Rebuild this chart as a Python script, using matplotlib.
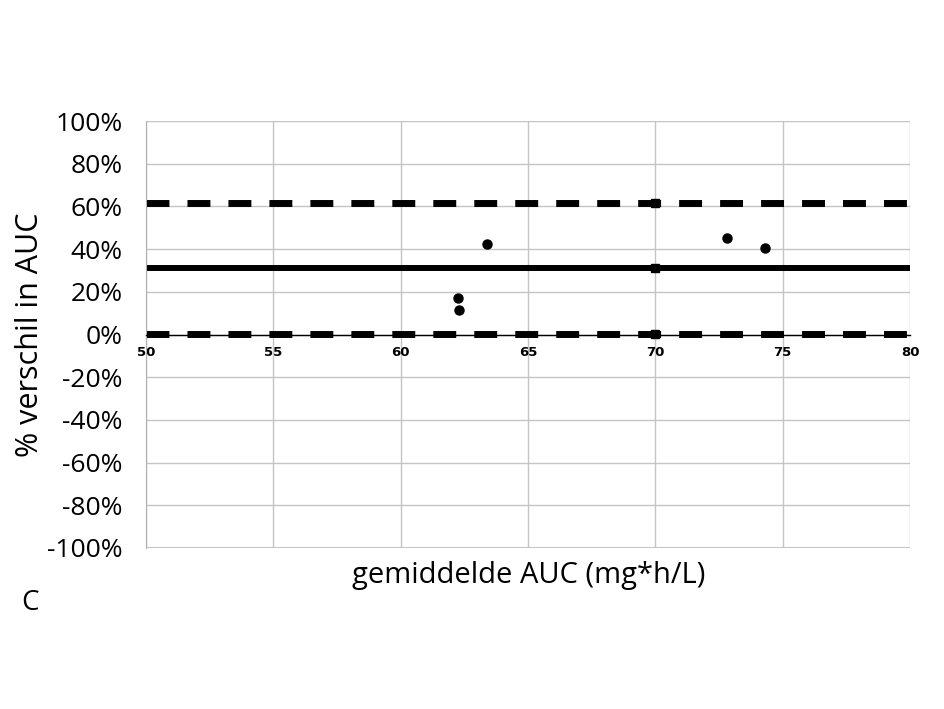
import matplotlib
matplotlib.use("Agg")
import matplotlib.pyplot as plt
from matplotlib.ticker import FuncFormatter

# gemiddelde AUC (mg*h/L) en % verschil
gem_auc = [62.25, 62.3, 63.4, 72.8, 74.3]
verschil = [16.9, 11.7, 42.2, 45.4, 40.7]

# gemiddelde verschil en limieten van overeenstemming
bias = 31.0
boven_limiet = 61.8
onder_limiet = 0.2
lijn_x = [50, 70, 80]

plt.rcParams['font.family'] = ['Open Sans', 'DejaVu Sans']

fig = plt.figure(figsize=(9.45, 7.09), dpi=100)
ax = fig.add_axes([0.1545, 0.2271, 0.8085, 0.6022])

ax.set_xlim(50, 80)
ax.set_ylim(-100, 100)
ax.set_xticks(range(50, 81, 5))
ax.set_yticks(range(-100, 101, 20))
ax.grid(True, color='#c4c4c4', linewidth=1.0)
ax.axhline(-100, color='#c4c4c4', lw=1.5, zorder=0)
ax.set_axisbelow(True)

for s in ['top', 'right']:
    ax.spines[s].set_visible(False)
ax.spines['left'].set_color('#b0b0b0')
ax.spines['bottom'].set_position(('data', 0))
ax.spines['bottom'].set_color('black')
ax.spines['bottom'].set_linewidth(1.0)
ax.tick_params(length=0)
ax.tick_params(axis='y', labelsize=19, pad=17)
ax.tick_params(axis='x', labelsize=9.5, pad=8)
for lbl in ax.get_xticklabels():
    lbl.set_fontweight('bold')
    lbl.set_family('DejaVu Sans')
ax.yaxis.set_major_formatter(FuncFormatter(lambda v, p: f"{v:.0f}%"))

# limieten (gestreept) en bias (doorgetrokken)
for y in [boven_limiet, onder_limiet]:
    ax.plot(lijn_x, [y] * 3, color='black', lw=5, linestyle=(0, (3.3, 2.6)),
            dash_capstyle='butt', marker='s', markersize=6, markevery=[1],
            solid_capstyle='butt', clip_on=False)
ax.plot(lijn_x, [bias] * 3, color='black', lw=4.3, marker='s', markersize=6,
        markevery=[1], solid_capstyle='butt')

ax.plot(gem_auc, verschil, 'o', color='black', markersize=6.5)

ax.set_ylabel("% verschil in AUC", fontsize=22, labelpad=1)
fig.text(0.559, 0.188, "gemiddelde AUC (mg*h/L)", fontsize=21, ha='center', va='center')
fig.text(0.032, 0.150, "C", fontsize=20, ha='center', va='center')

fig.savefig("out.png", dpi=100)
